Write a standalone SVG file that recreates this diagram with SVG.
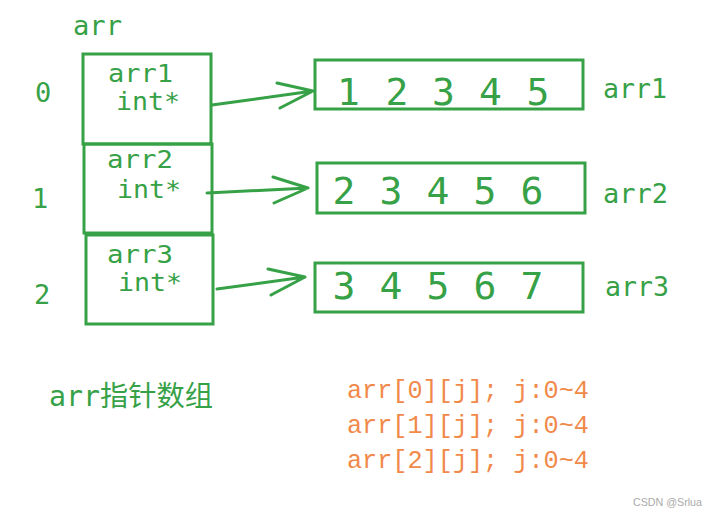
<svg xmlns="http://www.w3.org/2000/svg" width="715" height="514" viewBox="0 0 715 514">
<style>
.box{fill:none;stroke:#36a146;stroke-width:3}
.g{fill:#36a146;font-family:"DejaVu Sans Mono",monospace;font-size:27px}
.b{fill:#36a146;font-family:"DejaVu Sans Mono",monospace;font-size:24px}
.d{fill:#36a146;font-family:"DejaVu Sans Mono",monospace;font-size:38px;text-anchor:middle}
.ar{fill:none;stroke:#36a146;stroke-width:3;stroke-linecap:round;stroke-linejoin:round}
.o{fill:#f0894a;font-family:"Liberation Mono",monospace;font-size:25px}
</style>
<rect width="715" height="514" fill="#fff"/>
<text class="g" x="73" y="35" textLength="49" lengthAdjust="spacingAndGlyphs">arr</text>
<g id="idx">
<text class="g" x="35" y="102">0</text>
<text class="g" x="32" y="208">1</text>
<text class="g" x="34" y="304">2</text>
</g>
<g id="p0">
<rect class="box" x="83" y="54" width="128" height="90"/>
<text class="b" x="108" y="82" textLength="65" lengthAdjust="spacingAndGlyphs">arr1</text>
<text class="b" x="116" y="110" textLength="64" lengthAdjust="spacingAndGlyphs">int*</text>
</g>
<g id="p1">
<rect class="box" x="84" y="144" width="128" height="89"/>
<text class="b" x="107" y="168" textLength="66" lengthAdjust="spacingAndGlyphs">arr2</text>
<text class="b" x="117" y="198" textLength="64" lengthAdjust="spacingAndGlyphs">int*</text>
</g>
<g id="p2">
<rect class="box" x="86" y="235" width="127" height="89"/>
<text class="b" x="107" y="263" textLength="66" lengthAdjust="spacingAndGlyphs">arr3</text>
<text class="b" x="118" y="291" textLength="64" lengthAdjust="spacingAndGlyphs">int*</text>
</g>
<g id="a1">
<rect class="box" x="315" y="60" width="268" height="49"/>
<text class="d" x="348.5" y="105">1</text><text class="d" x="397" y="105">2</text><text class="d" x="443.5" y="105">3</text><text class="d" x="490.5" y="105">4</text><text class="d" x="538" y="105">5</text>
<text class="g" x="603" y="98" textLength="64" lengthAdjust="spacingAndGlyphs">arr1</text>
</g>
<g id="a2">
<rect class="box" x="317" y="163" width="268" height="50"/>
<text class="d" x="344" y="204">2</text><text class="d" x="391" y="204">3</text><text class="d" x="438" y="204">4</text><text class="d" x="485" y="204">5</text><text class="d" x="532" y="204">6</text>
<text class="g" x="603" y="203" textLength="65" lengthAdjust="spacingAndGlyphs">arr2</text>
</g>
<g id="a3">
<rect class="box" x="315" y="263" width="268" height="49"/>
<text class="d" x="344" y="299">3</text><text class="d" x="391" y="299">4</text><text class="d" x="438" y="299">5</text><text class="d" x="485" y="299">6</text><text class="d" x="532" y="299">7</text>
<text class="g" x="605" y="296" textLength="64" lengthAdjust="spacingAndGlyphs">arr3</text>
</g>
<g id="connectors">
<path class="ar" d="M212 105 L313 91 M277 83 L313 91 L280 108"/>
<path class="ar" d="M207 193 L308 188 M273 177 L308 188 L274 203"/>
<path class="ar" d="M217 289 L305 277 M268 269 L305 277 L271 295"/>
</g>
<text x="49" y="406" fill="#36a146" font-size="28" font-family="DejaVu Sans Mono,Noto Sans CJK SC,sans-serif" textLength="164" lengthAdjust="spacingAndGlyphs">arr指针数组</text>
<g id="notes">
<text class="o" x="347" y="398" textLength="242" lengthAdjust="spacingAndGlyphs">arr[0][j]; j:0~4</text>
<text class="o" x="347" y="433" textLength="242" lengthAdjust="spacingAndGlyphs">arr[1][j]; j:0~4</text>
<text class="o" x="347" y="468" textLength="242" lengthAdjust="spacingAndGlyphs">arr[2][j]; j:0~4</text>
</g>
<text x="633" y="506" fill="#aaa" font-size="11.5" font-family="Liberation Sans,sans-serif" textLength="69" lengthAdjust="spacingAndGlyphs">CSDN @Srlua</text>
</svg>
